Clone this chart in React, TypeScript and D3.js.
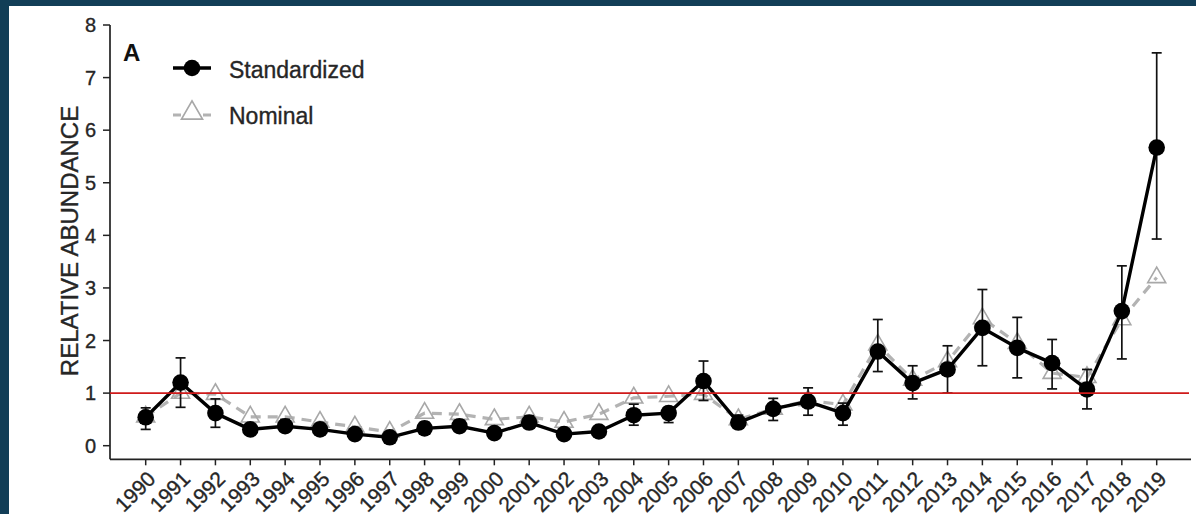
import { useEffect, useRef } from 'react';
import * as d3 from 'd3';

const years = d3.range(1990, 2020);
const yTicks = [0, 1, 2, 3, 4, 5, 6, 7, 8];

const standardized = [0.54, 1.2, 0.62, 0.31, 0.37, 0.31, 0.22, 0.16, 0.33, 0.37, 0.24, 0.44, 0.22, 0.27, 0.58,
  0.62, 1.23, 0.44, 0.7, 0.84, 0.62, 1.79, 1.19, 1.45, 2.24, 1.86, 1.57, 1.07, 2.56, 5.67];
const lower = [0.31, 0.73, 0.35, 0.22, 0.27, 0.22, 0.15, 0.1, 0.24, 0.27, 0.16, 0.33, 0.15, 0.19, 0.39,
  0.44, 0.86, 0.33, 0.48, 0.58, 0.39, 1.41, 0.89, 1.0, 1.52, 1.29, 1.08, 0.7, 1.65, 3.93];
const upper = [0.72, 1.67, 0.89, 0.42, 0.5, 0.42, 0.31, 0.24, 0.45, 0.49, 0.34, 0.57, 0.31, 0.37, 0.79,
  0.74, 1.61, 0.58, 0.9, 1.1, 0.81, 2.4, 1.52, 1.9, 2.97, 2.44, 2.02, 1.45, 3.42, 7.47];
const nominal = [0.55, 1.0, 0.98, 0.55, 0.55, 0.45, 0.36, 0.26, 0.62, 0.6, 0.5, 0.55, 0.45, 0.6, 0.91,
  0.94, 0.98, 0.5, 0.7, 0.86, 0.78, 1.92, 1.25, 1.6, 2.42, 1.95, 1.38, 1.3, 2.4, 3.2];

const W = 1196;
const H = 514;
const FONT = "'Liberation Sans', Arial, sans-serif";

export default function App() {
  const svgRef = useRef<SVGSVGElement>(null);

  useEffect(() => {
    if (!svgRef.current) return;
    const svg = d3.select(svgRef.current);
    svg.selectAll('*').remove();

    // frame
    svg.append('rect').attr('width', W).attr('height', H).attr('fill', '#123e57');
    svg.append('rect').attr('x', 9).attr('y', 6).attr('width', W - 9).attr('height', H - 6).attr('fill', '#fff');

    const x = d3.scaleLinear().domain([1990, 2019]).range([145.7, 1156.7]);
    const y = d3.scaleLinear().domain([0, 8]).range([445.7, 25]);
    const axisLeft = 110;
    const axisBottom = 459.3;
    const axisRight = 1191;

    const label = (sel: any, size: number) =>
      sel.style('font-family', FONT).style('font-size', `${size}px`)
        .attr('fill', '#262626').attr('stroke', '#262626').attr('stroke-width', 0.35);

    // axes
    const gy = svg.append('g').attr('transform', `translate(${axisLeft},0)`);
    gy.append('line').attr('y1', y(8)).attr('y2', axisBottom).attr('stroke', '#222').attr('stroke-width', 1.7);
    yTicks.forEach(t => {
      gy.append('line').attr('x1', -7).attr('x2', 0).attr('y1', y(t)).attr('y2', y(t))
        .attr('stroke', '#222').attr('stroke-width', 1.5);
      label(gy.append('text').attr('x', -14).attr('y', y(t)).attr('dy', '0.36em')
        .attr('text-anchor', 'end'), 20).text(t);
    });

    const gx = svg.append('g').attr('transform', `translate(0,${axisBottom})`);
    gx.append('line').attr('x1', axisLeft).attr('x2', axisRight).attr('stroke', '#222').attr('stroke-width', 1.7);
    years.forEach(yr => {
      gx.append('line').attr('x1', x(yr)).attr('x2', x(yr)).attr('y1', 0).attr('y2', 6)
        .attr('stroke', '#222').attr('stroke-width', 1.5);
      label(gx.append('text')
        .attr('transform', `translate(${x(yr) + 11},${21}) rotate(-45)`)
        .attr('text-anchor', 'end'), 21).text(yr);
    });

    // y title
    label(svg.append('text').attr('transform', `translate(78,241) rotate(-90)`)
      .attr('text-anchor', 'middle'), 24).text('RELATIVE ABUNDANCE');

    // panel letter
    svg.append('text').attr('x', 123).attr('y', 61).style('font-family', FONT)
      .style('font-size', '24px').style('font-weight', 'bold').attr('fill', '#111').text('A');

    const tri = (cx: number, cy: number, s: number) => {
      const h = s * Math.sqrt(3) / 2;
      return `M${cx},${cy - (2 * h) / 3}L${cx + s / 2},${cy + h / 3}L${cx - s / 2},${cy + h / 3}Z`;
    };

    // nominal series
    const nomLine = d3.line<number>().x((_, i) => x(years[i])).y(d => y(d));
    svg.append('path').attr('d', nomLine(nominal)).attr('fill', 'none')
      .attr('stroke', '#b3b3b3').attr('stroke-width', 3.2).attr('stroke-dasharray', '10,7');
    nominal.forEach((v, i) => {
      svg.append('path').attr('d', tri(x(years[i]), y(v), 18)).attr('fill', 'none')
        .attr('stroke', '#a8a8a8').attr('stroke-width', 1.6);
    });

    // error bars
    years.forEach((yr, i) => {
      const cx = x(yr);
      const g = svg.append('g').attr('stroke', '#111').attr('stroke-width', 1.7);
      g.append('line').attr('x1', cx).attr('x2', cx).attr('y1', y(lower[i])).attr('y2', y(upper[i]));
      g.append('line').attr('x1', cx - 5).attr('x2', cx + 5).attr('y1', y(lower[i])).attr('y2', y(lower[i]));
      g.append('line').attr('x1', cx - 5).attr('x2', cx + 5).attr('y1', y(upper[i])).attr('y2', y(upper[i]));
    });

    // standardized series
    const stdLine = d3.line<number>().x((_, i) => x(years[i])).y(d => y(d));
    svg.append('path').attr('d', stdLine(standardized)).attr('fill', 'none')
      .attr('stroke', '#000').attr('stroke-width', 3.4).attr('stroke-linejoin', 'round');
    svg.selectAll('.pt').data(standardized).enter().append('circle')
      .attr('cx', (_, i) => x(years[i])).attr('cy', d => y(d)).attr('r', 8.3).attr('fill', '#000');

    // reference line
    svg.append('line').attr('x1', axisLeft).attr('x2', 1189).attr('y1', y(1)).attr('y2', y(1))
      .attr('stroke', '#cf1a1a').attr('stroke-width', 1.8);

    // legend
    const lg = svg.append('g');
    lg.append('line').attr('x1', 173).attr('x2', 211).attr('y1', 68).attr('y2', 68)
      .attr('stroke', '#000').attr('stroke-width', 3.4);
    lg.append('circle').attr('cx', 192).attr('cy', 68).attr('r', 8.3).attr('fill', '#000');
    label(lg.append('text').attr('x', 229).attr('y', 78), 23).text('Standardized');
    lg.append('line').attr('x1', 173).attr('x2', 211).attr('y1', 115).attr('y2', 115)
      .attr('stroke', '#b3b3b3').attr('stroke-width', 3.2).attr('stroke-dasharray', '8,22');
    lg.append('path').attr('d', tri(192, 113, 21)).attr('fill', 'none')
      .attr('stroke', '#a8a8a8').attr('stroke-width', 1.7);
    label(lg.append('text').attr('x', 229).attr('y', 124), 23).text('Nominal');
  }, []);

  return (
    <svg ref={svgRef} width={W} height={H}
      style={{ position: 'absolute', left: 0, top: 0, display: 'block' }} />
  );
}
